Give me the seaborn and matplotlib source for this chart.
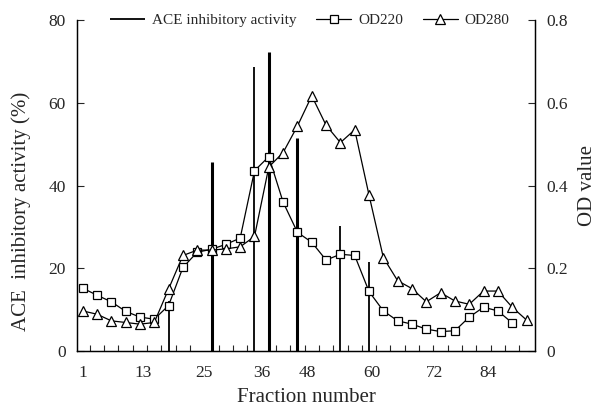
import matplotlib
matplotlib.use("Agg")
import matplotlib.pyplot as plt
import seaborn as sns
import numpy as np
import pandas as pd

# fraction tubes, one point every 3 fractions
od220 = [0.152, 0.135, 0.119, 0.096, 0.082, 0.077, 0.110, 0.202, 0.239, 0.246,
         0.258, 0.273, 0.436, 0.470, 0.360, 0.287, 0.263, 0.220, 0.234, 0.231,
         0.144, 0.097, 0.073, 0.065, 0.053, 0.047, 0.049, 0.082, 0.106, 0.097,
         0.068]
od280 = [0.097, 0.089, 0.073, 0.069, 0.065, 0.069, 0.150, 0.231, 0.244, 0.244,
         0.247, 0.252, 0.277, 0.445, 0.480, 0.544, 0.617, 0.546, 0.504, 0.535,
         0.377, 0.226, 0.170, 0.151, 0.119, 0.141, 0.121, 0.113, 0.145, 0.145,
         0.106, 0.075]
ace_pos = [6, 9, 12, 13, 15, 18, 20]
ace_val = [12.0, 45.8, 68.6, 72.4, 51.4, 30.3, 21.5]
ace_lw = [1.3, 2.2, 1.3, 2.2, 2.2, 1.3, 1.3]
tick_labels = ["1", "13", "25", "36", "48", "60", "72", "84"]
tick_pos = [0, 4.2, 8.5, 12.5, 15.7, 20.2, 24.6, 28.3]

df220 = pd.DataFrame({"idx": np.arange(len(od220)), "od": od220})
df280 = pd.DataFrame({"idx": np.arange(len(od280)), "od": od280})

sns.set_style("ticks")
plt.rcParams["font.family"] = ["Liberation Serif", "DejaVu Serif"]

fig = plt.figure(figsize=(6.06, 4.12), dpi=100)
ax = fig.add_axes([0.127, 0.148, 0.756, 0.803])
ax2 = ax.twinx()

ax.vlines(ace_pos, 0, ace_val, colors="black", linewidths=ace_lw,
          label="ACE inhibitory activity")
sns.lineplot(data=df220, x="idx", y="od", ax=ax2, color="black", lw=0.9,
             marker="s", markersize=6, markerfacecolor="white",
             markeredgecolor="black", markeredgewidth=0.9, label="OD220")
sns.lineplot(data=df280, x="idx", y="od", ax=ax2, color="black", lw=0.9,
             marker="^", markersize=7, markerfacecolor="white",
             markeredgecolor="black", markeredgewidth=0.9, label="OD280")

ax.set_xlim(-0.4, 31.6)
ax.set_ylim(0, 80)
ax2.set_ylim(0, 0.8)
ax.set_yticks([0, 20, 40, 60, 80])
ax2.set_yticks([0, 0.2, 0.4, 0.6, 0.8])
ax2.set_yticklabels(["0", "0.2", "0.4", "0.6", "0.8"])

ax.set_xticks(tick_pos)
ax.set_xticklabels(tick_labels)
ax.set_xticks(np.arange(0.5, 31, 1), minor=True)
ax.tick_params(axis="x", which="major", length=0, pad=10, labelsize=12.5)
ax.tick_params(axis="x", which="minor", direction="in", length=4, width=0.8)
ax.tick_params(axis="y", direction="in", length=5, width=0.8, labelsize=12.5, pad=8)
ax2.tick_params(axis="y", direction="in", length=5, width=0.8, labelsize=12.5, pad=8)

for a in (ax, ax2):
    a.spines["top"].set_visible(False)
    for s in ("left", "right", "bottom"):
        a.spines[s].set_linewidth(0.9)
        a.spines[s].set_color("black")

ax.set_xlabel("Fraction number", fontsize=15, labelpad=5)
ax.set_ylabel("ACE  inhibitory activity (%)", fontsize=15)
ax.yaxis.set_label_coords(-0.1, 0.423)
ax2.set_ylabel("OD value", fontsize=15, rotation=90, labelpad=7)

h1, l1 = ax.get_legend_handles_labels()
h2, l2 = ax2.get_legend_handles_labels()
ax2.legend(h1 + h2, l1 + l2, ncol=3, frameon=False, fontsize=11,
           loc="center", bbox_to_anchor=(0.508, 1.0), handlelength=2.3,
           columnspacing=1.3, handletextpad=0.45)

fig.savefig("out.png", dpi=100)
